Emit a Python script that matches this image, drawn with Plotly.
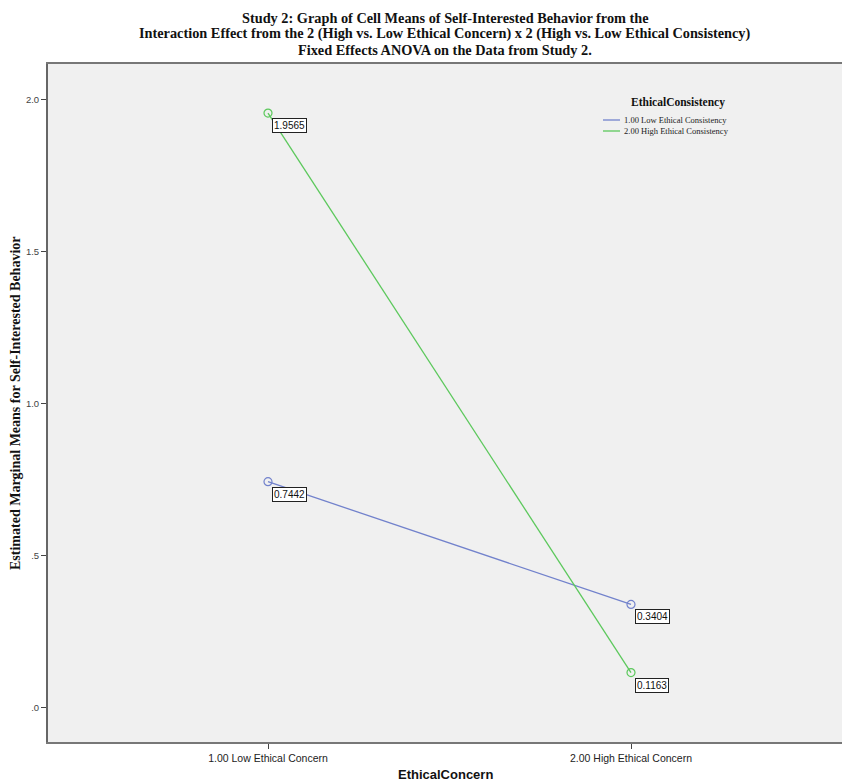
import plotly.graph_objects as go

categories = ["1.00 Low Ethical Concern", "2.00 High Ethical Concern"]
cat_pos = [1, 2]
low_consistency = [0.7442, 0.3404]
high_consistency = [1.9565, 0.1163]
series_names = ["1.00 Low Ethical Consistency", "2.00 High Ethical Consistency"]
y_tickvals = [0, 0.5, 1.0, 1.5, 2.0]
y_ticktext = [".0", ".5", "1.0", "1.5", "2.0"]
title_lines = [
    "Study 2: Graph of Cell Means of Self-Interested Behavior from the",
    "Interaction Effect from the 2 (High vs. Low Ethical Concern) x 2 (High vs. Low Ethical Consistency)",
    "Fixed Effects ANOVA on the Data from Study 2.",
]

colors = ["#7282cc", "#5cc85c"]
SERIF = "Liberation Serif, Times New Roman, serif"
SANS = "Liberation Sans, Arial, sans-serif"

FIG_W, FIG_H = 842, 782
# plot area in page pixels
L, R, T, B = 48, 842, 64, 742
W, H = R - L, B - T
X1_PX, X2_PX = 268, 631
x_span = X2_PX - X1_PX
x_range = [1 - (X1_PX - L) / x_span, 2 + (R - X2_PX) / x_span]

def px(xp):
    return (xp - L) / W
def py(yp):
    return (B - yp) / H

fig = go.Figure()
for name, vals, col in zip(series_names, [low_consistency, high_consistency], colors):
    fig.add_trace(go.Scatter(
        x=cat_pos, y=vals, name=name, mode="lines+markers",
        line=dict(color=col, width=1.3),
        marker=dict(symbol="circle-open", size=8, color=col, line=dict(width=1.2)),
        showlegend=False,
    ))
    for xv, yv in zip(cat_pos, vals):
        fig.add_annotation(
            x=xv, y=yv, text=f"{yv:.4f}", showarrow=False,
            xanchor="left", yanchor="top", xshift=4, yshift=-5,
            font=dict(family=SANS, size=10, color="#111"),
            bgcolor="white", bordercolor="#222", borderwidth=1, borderpad=1,
        )

# title lines
for line, yp in zip(title_lines, [18, 34, 50]):
    fig.add_annotation(
        xref="paper", yref="paper", x=px(445), y=py(yp), text=f"<b>{line}</b>",
        showarrow=False, xanchor="center", yanchor="middle",
        font=dict(family=SERIF, size=14.3, color="#111"),
    )

# custom legend
fig.add_annotation(
    xref="paper", yref="paper", x=px(678), y=py(102), text="<b>EthicalConsistency</b>",
    showarrow=False, xanchor="center", yanchor="middle",
    font=dict(family=SERIF, size=11.5, color="#111"),
)
for name, col, yp in zip(series_names, colors, [120, 131]):
    fig.add_shape(type="line", xref="paper", yref="paper",
                  x0=px(603), x1=px(620), y0=py(yp), y1=py(yp),
                  line=dict(color=col, width=1.3))
    fig.add_annotation(
        xref="paper", yref="paper", x=px(622), y=py(yp), text=name,
        showarrow=False, xanchor="left", yanchor="middle",
        font=dict(family=SERIF, size=8.5, color="#222"),
    )

# axis titles
fig.add_annotation(
    xref="paper", yref="paper", x=px(445), y=py(774), text="<b>EthicalConcern</b>",
    showarrow=False, xanchor="center", yanchor="middle",
    font=dict(family=SANS, size=13, color="#111"),
)
fig.add_annotation(
    xref="paper", yref="paper", x=px(15), y=py(403),
    text="<b>Estimated Marginal Means for Self-Interested Behavior</b>",
    showarrow=False, xanchor="center", yanchor="middle", textangle=-90,
    font=dict(family=SERIF, size=14, color="#111"),
)

fig.update_layout(
    width=FIG_W, height=FIG_H,
    margin=dict(l=L, r=FIG_W - R, t=T, b=FIG_H - B, autoexpand=False),
    paper_bgcolor="white", plot_bgcolor="#f0f0f0",
    showlegend=False,
)

fig.update_xaxes(
    range=x_range, tickvals=cat_pos, ticktext=categories,
    ticks="outside", ticklen=5, tickcolor="#444", showgrid=False, zeroline=False,
    showline=True, linecolor="#777", linewidth=2, mirror=True, automargin=False,
    tickfont=dict(family=SANS, size=10.5, color="#222"),
)
fig.update_yaxes(
    range=[-0.112, 2.118], tickvals=y_tickvals, ticktext=y_ticktext,
    ticks="outside", ticklen=5, tickcolor="#444", showgrid=False, zeroline=False,
    showline=True, linecolor="#666", linewidth=2, automargin=False,
    tickfont=dict(family=SANS, size=9.5, color="#444"),
)

fig.write_html(
    "out.html",
    config={"displayModeBar": False},
    post_script="document.body.style.margin='0';document.body.style.overflow='hidden';"
                "document.documentElement.style.overflow='hidden';",
)
